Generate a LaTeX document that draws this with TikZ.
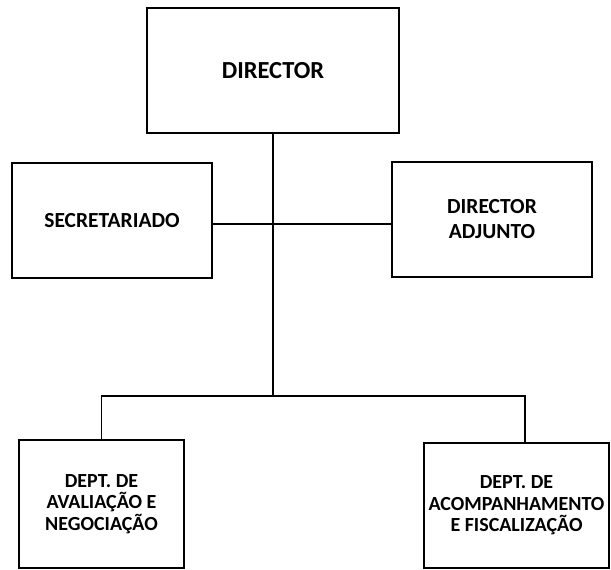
\documentclass[tikz,border=0pt]{standalone}
\usepackage{fontspec}
\setmainfont{Carlito}
\usepackage{tikz}
\tikzset{unit/.style={draw, line width=2.6pt, align=center, inner sep=0pt,
   font=\bfseries\fontsize{20}{21.5}\selectfont},
 top unit/.style={unit, font=\bfseries\fontsize{24.5}{28}\selectfont},
 mid unit/.style={unit, font=\bfseries\fontsize{21.5}{25}\selectfont},
 link/.style={draw, line width=1.3pt},
 }

\begin{document}
\begin{tikzpicture}[x=1pt, y=-1pt]
        \useasboundingbox (0, 0) rectangle (611, 570);
        \node[top unit, minimum width=252, minimum height=125] (director) at (273, 70.5) {DIRECTOR};
        \node[mid unit, minimum width=200, minimum height=115] (secret) at (112, 220.5) {SECRETARIADO};
        \node[mid unit, minimum width=200, minimum height=115] (adjunto) at (492, 219.5) {DIRECTOR\\ADJUNTO};
        \node[unit, minimum width=165, minimum height=128] (avaliacao) at (101.5, 504) {DEPT. DE\\AVALIAÇÃO E\\NEGOCIAÇÃO};
        \node[unit, minimum width=185, minimum height=125] (fiscal) at (516.5, 505.5) {DEPT. DE\\ACOMPANHAMENTO\\E FISCALIZAÇÃO};
        \coordinate (bus) at (273, 396);
        \draw[link] (director.south) -- (bus);
        \draw[link, line width=1.8pt] ([yshift=-3.5]secret.east) -- ([yshift=-4.5]adjunto.west);
        \draw[link] (avaliacao.north) |- (bus) -| ([xshift=8.5]fiscal.north);
    \end{tikzpicture}
\end{document}
